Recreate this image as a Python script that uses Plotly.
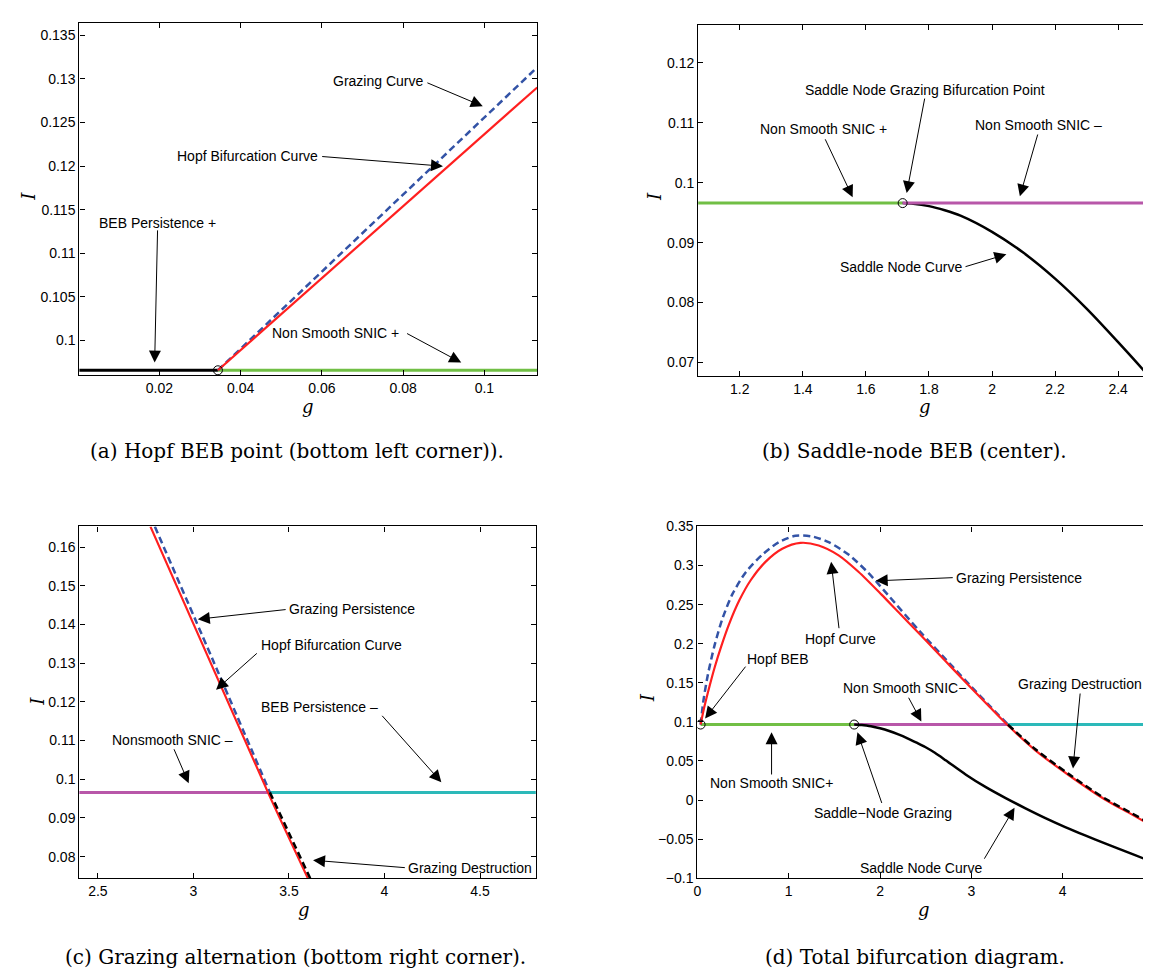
import plotly.graph_objects as go

# ---------------- data ----------------
I_BEB = 0.0966

# (a) Hopf BEB point
a_left_g = [0.0, 0.0344]
a_right_g = [0.0344, 0.1130]
a_hopf_g = [0.0344, 0.1130]
a_hopf_I = [0.0966, 0.1290]
a_graz_g = [0.0344, 0.1130]
a_graz_I = [0.0966, 0.1313]
a_pt_g = [0.0344]

# (b) Saddle-node BEB
b_left_g = [1.06, 1.7165]
b_right_g = [1.7165, 2.53]
b_sn_g = [1.7165, 1.75, 1.80, 1.85, 1.90, 2.00, 2.10, 2.20, 2.30, 2.40, 2.494, 2.52]
b_sn_I = [0.0966, 0.0965, 0.0961, 0.0954, 0.0945, 0.0918, 0.0883, 0.0840, 0.0790, 0.0734,
          0.0679, 0.0662]
b_pt_g = [1.7165]

# (c) Grazing alternation
c_left_g = [2.40, 3.39]
c_right_g = [3.39, 4.80]
c_hopf_g = [2.775, 3.39, 3.599]
c_hopf_I = [0.1653, 0.0966, 0.0744]
c_graz_g = [2.798, 3.10, 3.40]
c_graz_I = [0.1653, 0.1310, 0.0966]
c_dest_g = [3.40, 3.611]
c_dest_I = [0.0966, 0.0744]

# (d) Total bifurcation diagram
d_green_g = [0.035, 1.7165]
d_magenta_g = [1.7165, 3.39]
d_cyan_g = [3.39, 5.01]
d_hopf_g = [0.035, 0.078, 0.132, 0.187, 0.259, 0.35, 0.459, 0.585, 0.748, 0.929, 1.128,
            1.328, 1.546, 1.763, 2.016, 2.2, 2.433, 2.6, 2.8, 3.0, 3.2, 3.39, 3.7, 4.063,
            4.462, 4.75, 5.01]
d_hopf_I = [0.0966, 0.1202, 0.1453, 0.1690, 0.1960, 0.2260, 0.2555, 0.2815, 0.3050, 0.3215,
            0.3290, 0.3257, 0.3131, 0.2921, 0.2628, 0.2405, 0.2125, 0.1920, 0.1675, 0.1430,
            0.1190, 0.0966, 0.0636, 0.0321, 0.0007, -0.018, -0.035]
d_graz_g = [0.035, 0.067, 0.114, 0.187, 0.277, 0.386, 0.530, 0.712, 0.893, 1.074, 1.255,
            1.437, 1.654, 1.872, 2.089, 2.433, 2.8, 3.0, 3.2, 3.40]
d_graz_I = [0.0966, 0.1280, 0.1600, 0.1975, 0.2330, 0.2640, 0.2915, 0.3140, 0.3300, 0.3380,
            0.3372, 0.3299, 0.3140, 0.2905, 0.2620, 0.2160, 0.1700, 0.1450, 0.1205, 0.0966]
d_dest_g = [3.40, 3.7, 4.063, 4.462, 4.75, 5.01]
d_dest_I = [0.0966, 0.0650, 0.0335, 0.0020, -0.0165, -0.0335]
d_sn_g = [1.7165, 1.75, 1.80, 1.85, 1.90, 2.00, 2.10, 2.20, 2.30, 2.40, 2.494, 2.6, 2.723,
          2.940, 3.158, 3.375, 3.592, 3.810, 4.027, 4.245, 4.462, 4.75, 5.01]
d_sn_I = [0.0966, 0.0965, 0.0961, 0.0954, 0.0945, 0.0918, 0.0883, 0.0840, 0.0790, 0.0734,
          0.0679, 0.0605, 0.0505, 0.0325, 0.0165, 0.0025, -0.0105, -0.0230, -0.0345,
          -0.0452, -0.0553, -0.0685, -0.0805]
d_pt_g = [0.035, 1.7165]

# tick values / labels
a_xt = [0.02, 0.04, 0.06, 0.08, 0.1]
a_xl = ["0.02", "0.04", "0.06", "0.08", "0.1"]
a_yt = [0.1, 0.105, 0.11, 0.115, 0.12, 0.125, 0.13, 0.135]
a_yl = ["0.1", "0.105", "0.11", "0.115", "0.12", "0.125", "0.13", "0.135"]
b_xt = [1.2, 1.4, 1.6, 1.8, 2.0, 2.2, 2.4]
b_xl = ["1.2", "1.4", "1.6", "1.8", "2", "2.2", "2.4"]
b_yt = [0.07, 0.08, 0.09, 0.1, 0.11, 0.12]
b_yl = ["0.07", "0.08", "0.09", "0.1", "0.11", "0.12"]
c_xt = [2.5, 3, 3.5, 4, 4.5]
c_xl = ["2.5", "3", "3.5", "4", "4.5"]
c_yt = [0.08, 0.09, 0.1, 0.11, 0.12, 0.13, 0.14, 0.15, 0.16]
c_yl = ["0.08", "0.09", "0.1", "0.11", "0.12", "0.13", "0.14", "0.15", "0.16"]
d_xt = [0, 1, 2, 3, 4, 5]
d_xl = ["0", "1", "2", "3", "4", "5"]
d_yt = [-0.1, -0.05, 0, 0.05, 0.1, 0.15, 0.2, 0.25, 0.3, 0.35]
d_yl = ["\u22120.1", "\u22120.05", "0", "0.05", "0.1", "0.15", "0.2", "0.25", "0.3", "0.35"]

captions = ["(a) Hopf BEB point (bottom left corner)).",
            "(b) Saddle-node BEB (center).",
            "(c) Grazing alternation (bottom right corner).",
            "(d) Total bifurcation diagram."]

# ---------------- styling ----------------
W, H = 1151, 971
RED = "#ff1f1f"
BLUE = "#3353a6"
GREEN = "#71bf45"
MAGENTA = "#b857a9"
CYAN = "#2cb9b9"
BLACK = "#000000"
DASH = "7px,4px"
SANS = "Liberation Sans, Arial, sans-serif"
SERIF = "DejaVu Serif, serif"
TFONT = dict(family=SANS, size=14, color="black")

# panel boxes in pixels: (left, right, top, bottom)
boxes = {
    "a": (67.8, 528.4, 6.7, 365.0),
    "b": (690.4, 1150.0, 8.7, 365.7),
    "c": (67.8, 527.0, 519.0, 876.7),
    "d": (689.6, 1150.0, 519.0, 876.7),
}
ids = {"a": "", "b": "2", "c": "3", "d": "4"}
ranges = {
    "a": ([0.0003, 0.1130], [0.09606, 0.13643]),
    "b": ([1.068, 2.517], [0.0678, 0.1264]),
    "c": ([2.403, 4.792], [0.07441, 0.16534]),
    "d": ([0.0, 5.01], [-0.1, 0.35]),
}
ticks = {
    "a": (a_xt, a_xl, a_yt, a_yl),
    "b": (b_xt, b_xl, b_yt, b_yl),
    "c": (c_xt, c_xl, c_yt, c_yl),
    "d": (d_xt, d_xl, d_yt, d_yl),
}

fig = go.Figure()


def line(p, g, I, color, width=2, dash=None):
    k = ids[p]
    fig.add_trace(go.Scatter(
        x=g, y=I, mode="lines", xaxis="x" + k, yaxis="y" + k,
        line=dict(color=color, width=width, dash=dash, shape="spline", smoothing=0.8),
        showlegend=False, hoverinfo="skip"))


def points(p, g):
    k = ids[p]
    fig.add_trace(go.Scatter(
        x=g, y=[I_BEB] * len(g), mode="markers", xaxis="x" + k, yaxis="y" + k,
        marker=dict(symbol="circle-open", size=9, color="black", line=dict(width=1)),
        showlegend=False, hoverinfo="skip"))


# (a)
line("a", a_left_g, [I_BEB] * 2, BLACK, 3)
line("a", a_right_g, [I_BEB] * 2, GREEN, 3)
line("a", a_graz_g, a_graz_I, BLUE, 2.5, DASH)
line("a", a_hopf_g, a_hopf_I, RED, 2.2)
points("a", a_pt_g)
# (b)
line("b", b_left_g, [I_BEB] * 2, GREEN, 3)
line("b", b_sn_g, b_sn_I, BLACK, 2.5)
line("b", b_right_g, [I_BEB] * 2, MAGENTA, 3)
points("b", b_pt_g)
# (c)
line("c", c_left_g, [I_BEB] * 2, MAGENTA, 3)
line("c", c_right_g, [I_BEB] * 2, CYAN, 3)
line("c", c_graz_g, c_graz_I, BLUE, 2.5, DASH)
line("c", c_hopf_g, c_hopf_I, RED, 2.2)
line("c", c_dest_g, c_dest_I, BLACK, 2.5, DASH)
# (d)
line("d", d_green_g, [I_BEB] * 2, GREEN, 3)
line("d", d_magenta_g, [I_BEB] * 2, MAGENTA, 3)
line("d", d_cyan_g, [I_BEB] * 2, CYAN, 3)
line("d", d_sn_g, d_sn_I, BLACK, 2.5)
line("d", d_graz_g, d_graz_I, BLUE, 2.5, DASH)
line("d", d_hopf_g, d_hopf_I, RED, 2.2)
line("d", d_dest_g, d_dest_I, BLACK, 2.5, DASH)
points("d", d_pt_g)

# ---------------- axes ----------------
layout = dict(width=W, height=H, margin=dict(l=0, r=0, t=0, b=0),
              paper_bgcolor="white", plot_bgcolor="white", showlegend=False)
for p, (l, r, t, b) in boxes.items():
    k = ids[p]
    xr, yr = ranges[p]
    xt, xl, yt, yl = ticks[p]
    common = dict(showline=True, mirror="ticks", linecolor="black", linewidth=1.3,
                  ticks="inside", ticklen=5, tickwidth=1, tickcolor="black",
                  showgrid=False, zeroline=False, tickfont=TFONT, fixedrange=True,
                  ticklabeloverflow="allow")
    layout["xaxis" + k] = dict(domain=[l / W, r / W], range=xr, anchor="y" + k,
                               tickvals=xt, ticktext=xl, **common)
    layout["yaxis" + k] = dict(domain=[1 - b / H, 1 - t / H], range=yr, anchor="x" + k,
                               tickvals=yt, ticktext=yl, **common)
fig.update_layout(**layout)

# ---------------- annotations ----------------
# (panel, text, text_g, text_I, xanchor, tail_g, tail_I, head_g, head_I)
notes = [
    ("a", "Grazing Curve", 0.0854, 0.1297, "right", 0.0856, 0.1296, 0.0996, 0.12685),
    ("a", "Hopf Bifurcation Curve", 0.0595, 0.1211, "right", 0.0597, 0.1211, 0.0898, 0.11998),
    ("a", "BEB Persistence +", 0.01955, 0.1135, "center", 0.01955, 0.1128, 0.01883, 0.09748),
    ("a", "Non Smooth SNIC +", 0.0795, 0.1009, "right", 0.0806, 0.1009, 0.0943, 0.09748),
    ("b", "Saddle Node Grazing Bifurcation Point", 1.7873, 0.11546, "center", 1.7873, 0.1143, 1.7293, 0.09828),
    ("b", "Non Smooth SNIC +", 1.4652, 0.10895, "center", 1.4687, 0.1075, 1.5579, 0.09757),
    ("b", "Non Smooth SNIC \u2013", 2.1463, 0.10961, "center", 2.1463, 0.1083, 2.0884, 0.09773),
    ("b", "Saddle Node Curve", 1.9112, 0.08592, "right", 1.9112, 0.08592, 2.0455, 0.08805),
    ("c", "Grazing Persistence", 3.4905, 0.1439, "left", 3.4905, 0.1439, 3.0229, 0.14136),
    ("c", "Hopf Bifurcation Curve", 3.3416, 0.13475, "left", 3.3397, 0.13288, 3.1183, 0.12314),
    ("c", "BEB Persistence \u2013", 3.977, 0.11873, "right", 3.981, 0.11678, 4.2977, 0.09924),
    ("c", "Nonsmooth SNIC \u2013", 2.8893, 0.11017, "center", 2.895, 0.10814, 2.9752, 0.09898),
    ("c", "Grazing Destruction", 4.1145, 0.07695, "left", 4.1145, 0.07712, 3.626, 0.07907),
    ("d", "Grazing Persistence", 2.812, 0.2846, "left", 2.812, 0.2846, 1.952, 0.2804),
    ("d", "Hopf Curve", 1.572, 0.2061, "center", 1.552, 0.2179, 1.464, 0.3047),
    ("d", "Hopf BEB", 0.872, 0.1810, "center", 0.54, 0.1726, 0.084, 0.1042),
    ("d", "Non Smooth SNIC\u2212", 2.264, 0.1432, "center", 2.304, 0.1328, 2.452, 0.1005),
    ("d", "Grazing Destruction", 4.192, 0.1483, "center", 4.192, 0.1382, 4.112, 0.0405),
    ("d", "Non Smooth SNIC+", 0.812, 0.0216, "center", 0.812, 0.0308, 0.812, 0.0866),
    ("d", "Saddle\u2212Node Grazing", 2.032, -0.0161, "center", 2.024, -0.0056, 1.752, 0.0866),
    ("d", "Saddle Node Curve", 2.452, -0.0866, "center", 3.132, -0.0769, 3.472, -0.0098),
]
ann = []
for p, txt, tg, tI, xa, ag, aI, hg, hI in notes:
    k = ids[p]
    ann.append(dict(x=tg, y=tI, xref="x" + k, yref="y" + k, text=txt, showarrow=False,
                    xanchor=xa, yanchor="middle", font=TFONT))
    ann.append(dict(x=hg, y=hI, xref="x" + k, yref="y" + k, ax=ag, ay=aI,
                    axref="x" + k, ayref="y" + k, text="", showarrow=True,
                    arrowhead=2, arrowsize=2.4, arrowwidth=1, arrowcolor="black",
                    standoff=0, startstandoff=0))

# axis titles (italic serif) and captions, placed in pixels
g_pos = [(297.8, 397.0), (918.5, 397.0), (293.6, 908.0), (917.6, 908.0)]
I_pos = [(16.5, 183.3), (646.6, 183.3), (25.7, 696.7), (639.3, 693.3)]
cap_pos = [(286.3, 442.0), (908.5, 442.0), (285.5, 957.0), (908.5, 957.0)]
for (gx, gy), (ix, iy), (cx, cy), cap in zip(g_pos, I_pos, cap_pos, captions):
    ann.append(dict(x=gx / W, y=1 - gy / H, xref="paper", yref="paper", text="<i>g</i>",
                    showarrow=False, xanchor="center", yanchor="middle",
                    font=dict(family=SERIF, size=18, color="black")))
    ann.append(dict(x=ix / W, y=1 - iy / H, xref="paper", yref="paper", text="<i>I</i>",
                    showarrow=False, xanchor="center", yanchor="middle", textangle=-90,
                    font=dict(family=SERIF, size=18, color="black")))
    ann.append(dict(x=cx / W, y=1 - cy / H, xref="paper", yref="paper", text=cap,
                    showarrow=False, xanchor="center", yanchor="middle",
                    font=dict(family=SERIF, size=20, color="black")))
fig.update_layout(annotations=ann)

fig.write_html("out.html")
